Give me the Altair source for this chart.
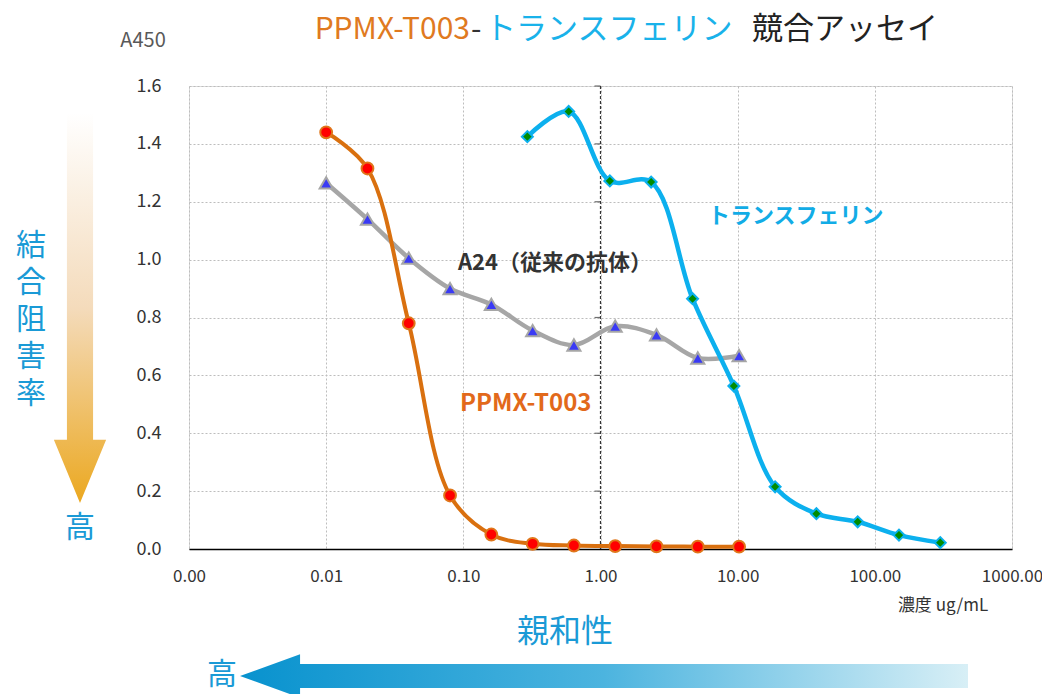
import altair as alt
import pandas as pd

# ---- data ----
ppmx_conc = [0.01, 0.02, 0.04, 0.08, 0.16, 0.32, 0.64, 1.28, 2.56, 5.12, 10.24]
ppmx_vals = [1.44, 1.315, 0.78, 0.185, 0.05, 0.018, 0.012, 0.01, 0.009, 0.008, 0.008]
a24_conc = [0.01, 0.02, 0.04, 0.08, 0.16, 0.32, 0.64, 1.28, 2.56, 5.12, 10.24]
a24_vals = [1.265, 1.14, 1.005, 0.9, 0.845, 0.755, 0.705, 0.77, 0.74, 0.66, 0.668]
tf_conc = [0.293, 0.586, 1.17, 2.34, 4.69, 9.38, 18.75, 37.5, 75, 150, 300]
tf_vals = [1.425, 1.512, 1.272, 1.268, 0.865, 0.563, 0.215, 0.122, 0.094, 0.048, 0.022]

x_ticks = [0.001, 0.01, 0.1, 1, 10, 100, 1000]
y_ticks = [0.0, 0.2, 0.4, 0.6, 0.8, 1.0, 1.2, 1.4, 1.6]

title_parts = ["PPMX-T003", "-", "トランスフェリン", "競合アッセイ"]
y_unit = "A450"
x_unit = "濃度 ug/mL"
label_tf = "トランスフェリン"
label_a24 = "A24（従来の抗体）"
label_ppmx = "PPMX-T003"
affinity = "親和性"
inhibition = ["結", "合", "阻", "害", "率"]
high = "高"

JP = "Noto Sans CJK JP"

W, H = 823, 463

xs = alt.Scale(type="log", domain=[0.001, 1000], nice=False)
ys = alt.Scale(domain=[0, 1.6], nice=False)

xaxis = alt.Axis(values=x_ticks, format=".2f", title=None, grid=True, ticks=False,
                 labelPadding=19, labelFontSize=17, labelColor="#333333",
                 domainColor="#000000", domainWidth=1.5, labelFont=JP,
                 gridColor="#BDBDBD", gridDash=[2, 2], labelFlush=False)
yaxis = alt.Axis(values=y_ticks, format=".1f", title=None, grid=True, ticks=False,
                 domain=False, labelPadding=28, labelFontSize=18, labelColor="#333333",
                 labelFont=JP, gridColor="#BDBDBD", gridDash=[2, 2])


def series(conc, vals, name):
    return pd.DataFrame({"conc": conc, "val": vals, "s": name})


df_p = series(ppmx_conc, ppmx_vals, "PPMX")
df_a = series(a24_conc, a24_vals, "A24")
df_t = series(tf_conc, tf_vals, "TF")

base_enc = dict(x=alt.X("conc:Q", scale=xs, axis=xaxis),
                y=alt.Y("val:Q", scale=ys, axis=yaxis))

grid_base = alt.Chart(df_p).mark_point(opacity=0).encode(**base_enc)

# dark dashed vertical at 1.00
vdf = pd.DataFrame({"conc": [1.0], "lo": [0.0], "hi": [1.6]})
vrule = alt.Chart(vdf).mark_rule(color="#333333", strokeDash=[3, 2], strokeWidth=1.2).encode(
    x=alt.X("conc:Q", scale=xs), y=alt.Y("lo:Q", scale=ys), y2="hi:Q")
tdf = pd.DataFrame({"conc": [1.0] * 8, "val": y_ticks[1:]})
vticks = alt.Chart(tdf).mark_tick(orient="horizontal", size=6, thickness=1.2,
                                   color="#333333", xOffset=-3).encode(
    x=alt.X("conc:Q", scale=xs), y=alt.Y("val:Q", scale=ys))


def line_layer(df, color, width):
    return alt.Chart(df).mark_line(interpolate="catmull-rom", color=color,
                                   strokeWidth=width).encode(
        x=alt.X("conc:Q", scale=xs), y=alt.Y("val:Q", scale=ys))


def point_layer(df, shape, size, fill, stroke, sw):
    return alt.Chart(df).mark_point(shape=shape, size=size, filled=True, fill=fill,
                                    stroke=stroke, strokeWidth=sw, opacity=1).encode(
        x=alt.X("conc:Q", scale=xs), y=alt.Y("val:Q", scale=ys))


l_p = line_layer(df_p, "#D9700F", 4)
l_a = line_layer(df_a, "#A6A6A6", 4.5)
l_t = line_layer(df_t, "#0CB0EE", 4.5)
p_p = point_layer(df_p, "circle", 140, "#FF0000", "#E0761A", 2)
p_a = point_layer(df_a, "triangle-up", 170, "#3A3AF5", "#A6A6A6", 2)
p_t = point_layer(df_t, "diamond", 120, "#008C00", "#0CB0EE", 2)


def txt(text, x, y, size, color, align="center", weight="normal", baseline="middle", **kw):
    return alt.Chart(pd.DataFrame({"t": [0]})).mark_text(
        text=text, align=align, baseline=baseline, fontSize=size, color=color,
        font=JP, fontWeight=weight, **kw).encode(x=alt.value(x), y=alt.value(y))


texts = [
    txt(title_parts[0], 281, -56, 30, "#E07A1F", align="right"),
    txt(title_parts[1], 282, -56, 30, "#333333", align="left"),
    txt(title_parts[2], 296, -56, 31, "#19B2EA", align="left"),
    txt(title_parts[3], 563, -56, 31, "#222222", align="left"),
    txt(y_unit, -46, -45, 20, "#595959"),
    txt(label_tf, 519, 130, 22, "#12ACE6", align="left", weight="bold"),
    txt(label_a24, 269, 177, 22, "#333333", align="left", weight="bold"),
    txt(label_ppmx, 271, 318, 24, "#E2691B", align="left", weight="bold"),
    txt(x_unit, 754, 520, 17, "#333333"),
    txt(affinity, 376, 546, 32, "#1A9AD6"),
    txt(high, 33, 589, 30, "#1A9AD6"),
    txt(high, -109, 442, 30, "#1A9AD6"),
]
for i, ch in enumerate(inhibition):
    texts.append(txt(ch, -158, 160 + 37 * i, 30, "#1A9AD6"))

# gradient arrows (custom symbol paths)
v_path = ("M -0.067 -1 L 0.067 -1 L 0.067 0.675 L 0.134 0.675 L 0 1 "
          "L -0.134 0.675 L -0.067 0.675 Z")
v_grad = {"gradient": "linear", "x1": 0, "y1": 0, "x2": 0, "y2": 1,
          "stops": [{"offset": 0, "color": "#FFFFFF"},
                    {"offset": 0.5, "color": "#F4DBBB"},
                    {"offset": 1, "color": "#EBA820"}]}
v_arrow = alt.Chart(pd.DataFrame({"t": [0]})).mark_point(
    shape=v_path, size=390 * 390, filled=True, fill=v_grad, strokeWidth=0, opacity=1
).encode(x=alt.value(-109), y=alt.value(222))

h_path = ("M -1 0 L -0.835 -0.06 L -0.835 -0.033 L 1 -0.033 L 1 0.033 "
          "L -0.835 0.033 L -0.835 0.06 Z")
h_grad = {"gradient": "linear", "x1": 0, "y1": 0, "x2": 1, "y2": 0,
          "stops": [{"offset": 0, "color": "#0892CE"},
                    {"offset": 0.5, "color": "#4CB4DF"},
                    {"offset": 1, "color": "#D8EFF6"}]}
h_arrow = alt.Chart(pd.DataFrame({"t": [0]})).mark_point(
    shape=h_path, size=728 * 728, filled=True, fill=h_grad, strokeWidth=0, opacity=1
).encode(x=alt.value(415), y=alt.value(590))

chart = alt.layer(
    grid_base, vrule, vticks, l_a, l_p, l_t, p_a, p_p, p_t, *texts, v_arrow, h_arrow
).properties(
    width=W, height=H,
    autosize=alt.AutoSizeParams(type="none"),
    padding={"left": 181, "top": 78, "right": 30, "bottom": 150},
).configure_view(stroke=None).configure(background="white")

chart.save("out.html", embed_options={"renderer": "svg", "actions": False})
